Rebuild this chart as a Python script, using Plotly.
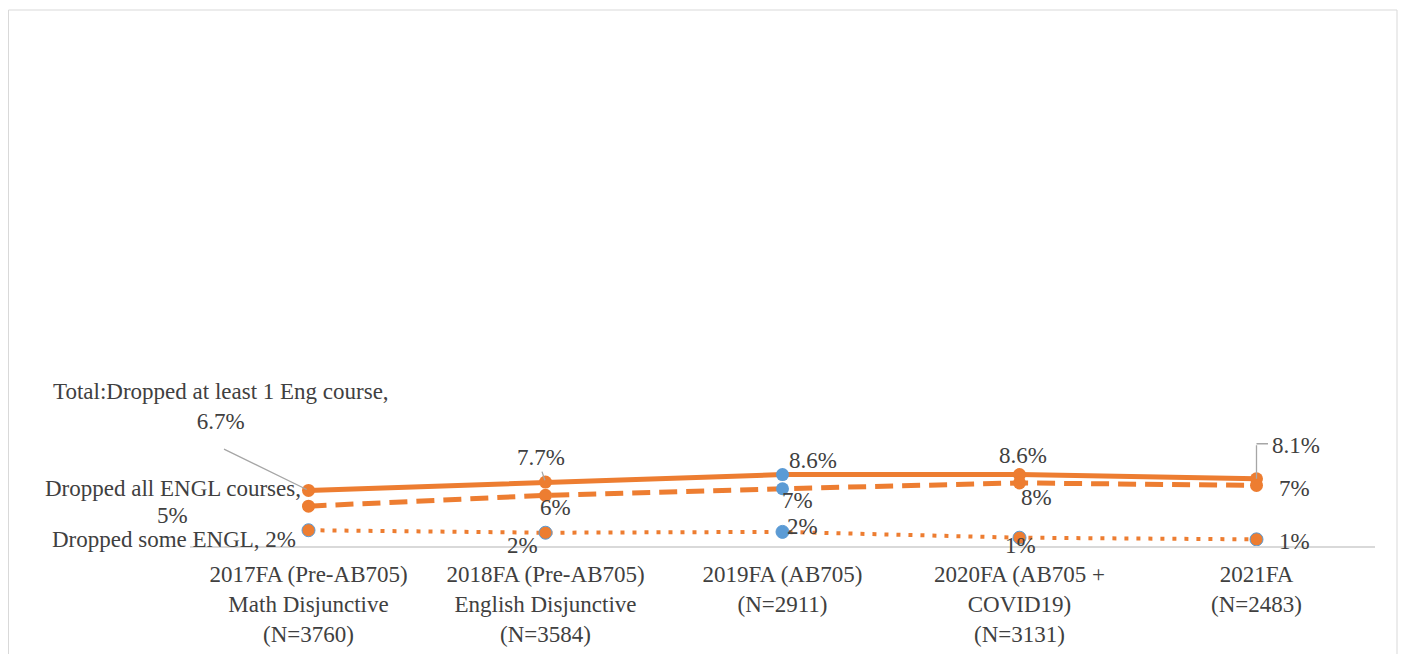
import plotly.graph_objects as go

categories = [
    "2017FA (Pre-AB705)<br>Math Disjunctive<br>(N=3760)",
    "2018FA (Pre-AB705)<br>English Disjunctive<br>(N=3584)",
    "2019FA (AB705)<br>(N=2911)",
    "2020FA (AB705 +<br>COVID19)<br>(N=3131)",
    "2021FA<br>(N=2483)",
]
total_pct = [6.7, 7.7, 8.6, 8.6, 8.1]
dropped_all_pct = [4.8, 6.1, 6.9, 7.6, 7.3]
dropped_some_pct = [1.9, 1.6, 1.7, 1.0, 0.8]

ORANGE = "#ED7D31"
BLUE = "#5B9BD5"
TEXT = "#404040"
LEADER = "#A6A6A6"
FONT = "Liberation Serif"
FS = 23

fig = go.Figure()

def marker_colors(n, blue_idx):
    return [BLUE if i == blue_idx else ORANGE for i in range(n)]

fig.add_trace(go.Scatter(
    x=categories, y=total_pct, mode="lines+markers", name="Total",
    line=dict(color=ORANGE, width=5),
    marker=dict(size=13, color=marker_colors(5, 2), line=dict(color=ORANGE, width=0)),
))
fig.add_trace(go.Scatter(
    x=categories, y=dropped_all_pct, mode="lines+markers", name="Dropped all",
    line=dict(color=ORANGE, width=5, dash="18px,9px"),
    marker=dict(size=13, color=marker_colors(5, 2), line=dict(color=ORANGE, width=0)),
))
fig.add_trace(go.Scatter(
    x=categories, y=dropped_some_pct, mode="lines+markers", name="Dropped some",
    line=dict(color=ORANGE, width=4, dash="4px,8px"),
    marker=dict(size=13, color=marker_colors(5, 2), line=dict(color=BLUE, width=1)),
))

# label offsets in pixels (dx, dy up-positive) relative to each point
total_offsets = [(-88, 84), (-5, 25), (30, 14), (3, 19), (39, 33)]
all_offsets = [(-136, 13), (10, -12), (15, -12), (17, -15), (38, -3)]
some_offsets = [(-135, -9), (-23, -13), (20, 5), (1, -8), (38, -2)]

annotations = []
def label(c, v, txt, dx, dy):
    annotations.append(dict(x=c, y=v, text=txt, showarrow=False, xshift=dx, yshift=dy))

def leader(c, v, ax, ay, xshift=0, yshift=0, standoff=0):
    annotations.append(dict(x=c, y=v, text="", showarrow=True, ax=ax, ay=ay,
                            xshift=xshift, yshift=yshift,
                            arrowhead=0, arrowwidth=1.3, arrowcolor=LEADER, standoff=standoff))

for i, (c, v) in enumerate(zip(categories, total_pct)):
    txt = f"{v:.1f}%"
    if i == 0:
        txt = f"Total:Dropped at least 1 Eng course,<br>{txt}"
    dx, dy = total_offsets[i]
    label(c, v, txt, dx, dy)
    if i == 0:
        leader(c, v, -86, -42, standoff=2)
    elif i == 1:
        leader(c, v, -4, -12, standoff=2)
    elif i == 4:
        leader(c, v, 0, -35, standoff=0)
        leader(c, v, 13, 0, yshift=35)

for i, (c, v) in enumerate(zip(categories, dropped_all_pct)):
    txt = f"{v:.0f}%"
    dx, dy = all_offsets[i]
    if i == 0:
        label(c, v, "Dropped all ENGL courses,", dx, dy + 5)
        label(c, v, txt, dx, dy - 22)
    else:
        label(c, v, txt, dx, dy)

for i, (c, v) in enumerate(zip(categories, dropped_some_pct)):
    txt = f"{v:.0f}%"
    if i == 0:
        txt = f"Dropped some ENGL, {txt}"
    dx, dy = some_offsets[i]
    label(c, v, txt, dx, dy)

for a in annotations:
    a["font"] = dict(family=FONT, size=FS, color=TEXT)

# page body has an 8px margin: compensate so the chart lands where the reference has it
OFF = 8
W, H = 1409, 654
L, R, T, B = 190 - OFF, W - (1375 - OFF), 20 - OFF, H - (546 - OFF)
pw, ph = W - L - R, H - T - B

fig.update_layout(
    width=W, height=H,
    margin=dict(l=L, r=R, t=T, b=B),
    paper_bgcolor="white", plot_bgcolor="white",
    showlegend=False,
    annotations=annotations,
    font=dict(family=FONT, size=FS, color=TEXT),
    shapes=[dict(type="rect", xref="paper", yref="paper",
                 x0=(0.5 - L) / pw, x1=(1397 - OFF - L) / pw,
                 y0=-0.5, y1=(H - B - 2) / ph,
                 line=dict(color="#D9D9D9", width=1), fillcolor="rgba(0,0,0,0)", layer="below")],
)
fig.update_xaxes(type="category", range=[-0.5, 4.5], showgrid=False, showline=True,
                 linecolor="#D9D9D9", linewidth=1.5, ticks="", zeroline=False,
                 ticklabelstandoff=7,
                 tickfont=dict(family=FONT, size=FS, color=TEXT))
fig.update_yaxes(range=[0, ph / 8.3], visible=False, showgrid=False, zeroline=False)

fig.write_html("out.html")
